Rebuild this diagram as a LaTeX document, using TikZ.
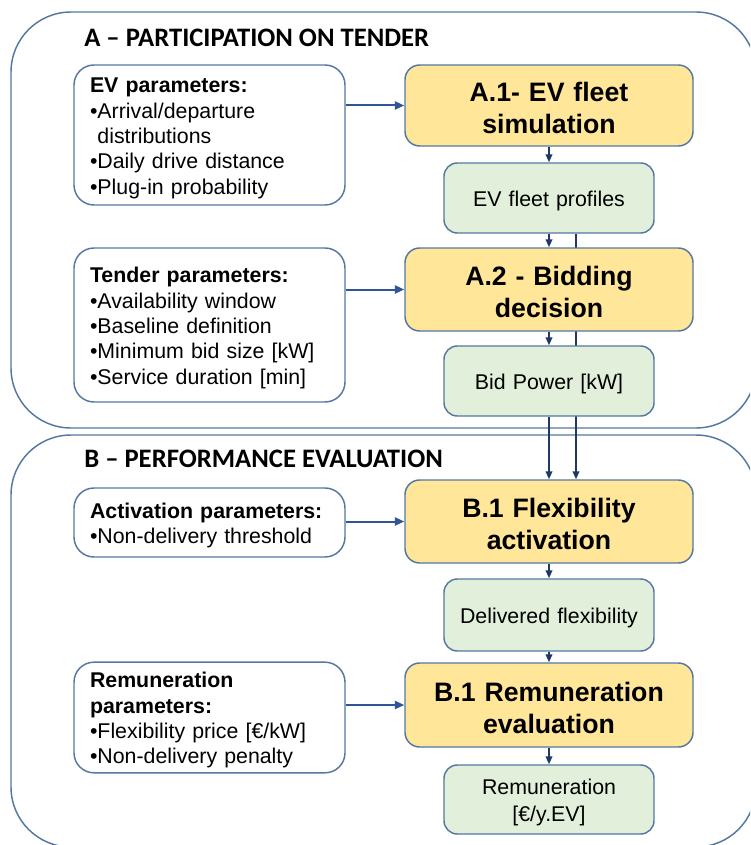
\documentclass[tikz,border=0pt]{standalone}
\usepackage{fontspec}
\setmainfont{Liberation Sans}
\newfontfamily\headfont{Carlito}
\usepackage{tikz}
\usetikzlibrary{arrows.meta,backgrounds}
\definecolor{framecol}{RGB}{84,120,162}
\definecolor{stepyellow}{RGB}{255,230,153}
\definecolor{outgreen}{RGB}{226,239,218}
\definecolor{feedblue}{RGB}{47,85,151}
\definecolor{flownavy}{RGB}{31,56,100}

\begin{document}
\begin{tikzpicture}[x=0.75pt, y=-0.75pt,
  parbox/.style={draw=framecol, line width=1.1pt, fill=white, rounded corners=15pt,
    minimum width=203.25pt, text width=179.25pt, inner xsep=12pt, align=left,
    execute at begin node={\rule{0pt}{16pt}}, font=\fontsize{16}{19}\selectfont},
  stepbox/.style={draw=framecol, line width=1.1pt, fill=stepyellow, rounded corners=11pt,
    minimum width=216pt, text width=200pt, inner xsep=8pt, align=center,
    execute at begin node={\rule{0pt}{18.5pt}}, font=\bfseries\fontsize{20}{24}\selectfont},
  outbox/.style={draw=framecol, line width=1.1pt, fill=outgreen, rounded corners=10pt,
    minimum width=157.5pt, text width=141.5pt, inner xsep=8pt, align=center,
    execute at begin node={\rule{0pt}{16pt}}, font=\fontsize{16}{20}\selectfont},
  zonebox/.style={draw=framecol, line width=1.1pt, rounded corners=45pt},
  zonetitle/.style={anchor=west, inner sep=0pt, font=\headfont\bfseries\fontsize{20}{23}\selectfont},
  feed/.style={draw=feedblue, line width=1.5pt, -{Triangle[length=7pt,width=6pt]}},
  flow/.style={draw=flownavy, line width=1.3pt, -{Triangle[length=6pt,width=5pt]}}]

\useasboundingbox (0,0) rectangle (750,845);

% Zone titles
\node[zonetitle] (titleA) at (84,38) {A – PARTICIPATION ON TENDER};
\node[zonetitle] (titleB) at (84,459) {B – PERFORMANCE EVALUATION};

% Input parameters
\node[parbox, minimum height=105pt] (evpar) at (209.5,135) {\textbf{EV parameters:}\\
  •Arrival/departure\\ \phantom{•}distributions\\ •Daily drive distance\\ •Plug-in probability};
\node[parbox, minimum height=115.5pt] (tenderpar) at (209.5,325) {\textbf{Tender parameters:}\\
  •Availability window\\ •Baseline definition\\ •Minimum bid size [kW]\\ •Service duration [min]};
\node[parbox, minimum height=51.75pt] (actpar) at (209.5,522.5) {\textbf{Activation parameters:}\\
  •Non-delivery threshold};
\node[parbox, minimum height=81.75pt] (remunpar) at (209.5,717.5) {\textbf{Remuneration}\\
  \textbf{parameters:}\\ •Flexibility price [€/kW]\\ •Non-delivery penalty};

% Steps
\node[stepbox, minimum height=60.75pt] (a1) at (549,105.5) {A.1- EV fleet\\simulation};
\node[stepbox, minimum height=62.25pt] (a2) at (549,289.5) {A.2 - Bidding\\decision};
\node[stepbox, minimum height=62.25pt] (b1flex) at (549,521.5) {B.1 Flexibility\\activation};
\node[stepbox, minimum height=63pt] (b1remun) at (549,705) {B.1 Remuneration\\evaluation};

% Outputs
\node[outbox, minimum height=52.5pt] (profiles) at (549,198) {EV fleet profiles};
\node[outbox, minimum height=52.5pt] (bidpower) at (549,381) {Bid Power [kW]};
\node[outbox, minimum height=54pt] (delivered) at (549,615) {Delivered flexibility};
\node[outbox, minimum height=51.75pt] (remunout) at (549,799.5) {Remuneration\\{[€/y.EV]}};

% Inputs into steps
\draw[feed] (evpar.east |- a1.west) -- (a1.west);
\draw[feed] (tenderpar.east |- a2.west) -- (a2.west);
\draw[feed] (actpar.east |- b1flex.west) -- (b1flex.west);
\draw[feed] (remunpar.east |- b1remun.west) -- (b1remun.west);

% Main flow
\draw[flow] (a1) -- (profiles);
\draw[flow] (profiles) -- (a2);
\draw[flow] (a2) -- (bidpower);
\draw[flow] (bidpower) -- (b1flex);
\draw[flow] (b1flex) -- (delivered);
\draw[flow] (delivered) -- (b1remun);
\draw[flow] (b1remun) -- (remunout);

\begin{scope}[on background layer]
\clip (0,0) rectangle (750,845);
\draw[zonebox] (11,12) rectangle (756,428);
\draw[zonebox] (11,435) rectangle (756,847);
% profiles also passed straight to activation
\draw[flow] ([xshift=20.25pt]profiles.south) -- ([xshift=20.25pt]b1flex.north);
\end{scope}

\end{tikzpicture}
\end{document}
